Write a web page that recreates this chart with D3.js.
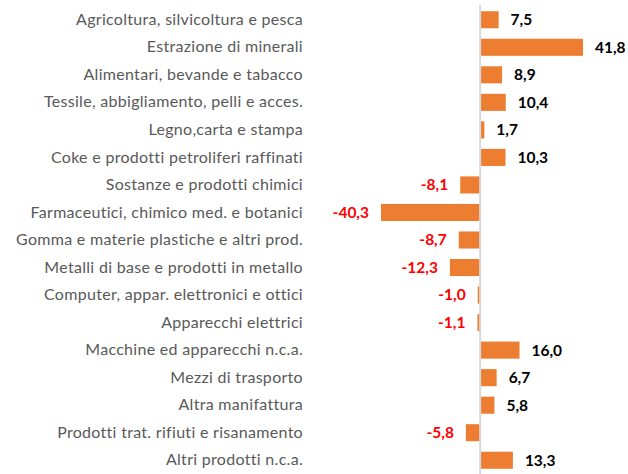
<!DOCTYPE html>
<html>
<head>
<meta charset="utf-8">
<script src="https://cdn.jsdelivr.net/npm/d3@7"></script>
<style>
  body { margin: 0; background: #fff; }
  svg { display: block; }
</style>
</head>
<body>
<svg id="chart" width="628" height="474"></svg>
<script>
// categories and values
let categories = [
  "Agricoltura, silvicoltura e pesca",
  "Estrazione di minerali",
  "Alimentari, bevande e tabacco",
  "Tessile, abbigliamento, pelli e acces.",
  "Legno,carta e stampa",
  "Coke e prodotti petroliferi raffinati",
  "Sostanze e prodotti chimici",
  "Farmaceutici, chimico med. e botanici",
  "Gomma e materie plastiche e altri prod.",
  "Metalli di base e prodotti in metallo",
  "Computer, appar. elettronici e ottici",
  "Apparecchi elettrici",
  "Macchine ed apparecchi n.c.a.",
  "Mezzi di trasporto",
  "Altra manifattura",
  "Prodotti trat. rifiuti e risanamento",
  "Altri prodotti n.c.a."
];
let values = [7.5, 41.8, 8.9, 10.4, 1.7, 10.3, -8.1, -40.3, -8.7, -12.3, -1.0, -1.1, 16.0, 6.7, 5.8, -5.8, 13.3];

let width = 628, height = 474;
let svg = d3.select("#chart");
let font = "Lato, 'Open Sans', sans-serif";

let x = d3.scaleLinear()
    .domain([-40.3, 41.8])
    .range([381, 583]);

let y = d3.scaleBand()
    .domain(categories)
    .range([6, 474])
    .paddingInner(0.38)
    .paddingOuter(0.19);

let fmt = v => d3.format(".1f")(v).replace(".", ",").replace("−", "-");

// bars
svg.selectAll("rect.bar")
    .data(values)
    .enter().append("rect")
    .attr("class", "bar")
    .attr("x", d => x(Math.min(0, d)))
    .attr("y", (d, i) => y(categories[i]))
    .attr("width", d => Math.abs(x(d) - x(0)))
    .attr("height", y.bandwidth())
    .attr("fill", "#ed7d31");

// zero line
svg.append("line")
    .attr("x1", x(0)).attr("x2", x(0))
    .attr("y1", 5).attr("y2", height)
    .attr("stroke", "#d9d9d9")
    .attr("stroke-width", 2);

// category labels
let yAxis = d3.axisLeft(y).tickSize(0).tickPadding(0);
let g = svg.append("g")
    .attr("transform", "translate(303,0)")
    .call(yAxis);
g.select(".domain").remove();
g.selectAll("text")
    .attr("font-family", font)
    .attr("font-size", 16)
    .attr("letter-spacing", 0.3)
    .attr("fill", "#595959");

// value labels
svg.selectAll("text.val")
    .data(values)
    .enter().append("text")
    .attr("class", "val")
    .attr("x", d => d >= 0 ? x(d) + 12 : x(d) - 12)
    .attr("y", (d, i) => y(categories[i]) + y.bandwidth() / 2)
    .attr("dy", "0.35em")
    .attr("text-anchor", d => d >= 0 ? "start" : "end")
    .attr("font-family", font)
    .attr("font-weight", "bold")
    .attr("font-size", 15.5)
    .attr("fill", d => d >= 0 ? "#000" : "#ff0000")
    .text(fmt);
</script>
</body>
</html>
